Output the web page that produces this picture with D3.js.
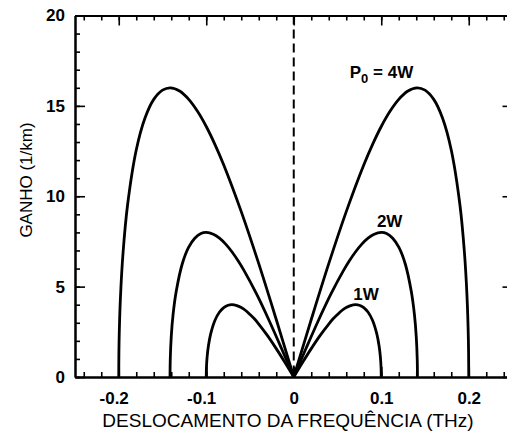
<!DOCTYPE html>
<html>
<head>
<meta charset="utf-8">
<script src="https://cdn.jsdelivr.net/npm/d3@7"></script>
<style>
  body { margin: 0; background: #fff; }
  svg { display: block; }
  .axis path, .axis line { stroke: #000; }
  .axis path { stroke-width: 2; }
  .axis line { stroke-width: 1.6; }
  .tick-label text { font-family: "Liberation Sans", Arial, sans-serif; font-size: 17px; font-weight: bold; fill: #000; }
  .axis-label { font-family: "Liberation Sans", Arial, sans-serif; fill: #000; }
  .curve { fill: none; stroke: #000; stroke-width: 2.8; stroke-linejoin: round; stroke-linecap: butt; }
  .power-label { font-family: "Liberation Sans", Arial, sans-serif; font-size: 17px; font-weight: bold; fill: #000; }
</style>
</head>
<body>
<svg id="chart" width="507" height="433"></svg>
<script>
// gain curves (frequency in THz, gain in 1/km)
const freq4W = [0, 0.02, 0.04, 0.06, 0.08, 0.09, 0.10, 0.11, 0.12, 0.13, 0.141, 0.15, 0.16, 0.17, 0.18, 0.19, 0.195, 0.198, 0.1996, 0.2];
const freq4WLeft = [0, -0.02, -0.04, -0.06, -0.08, -0.09, -0.10, -0.11, -0.12, -0.13, -0.141, -0.15, -0.16, -0.17, -0.18, -0.19, -0.195, -0.198, -0.1996, -0.2];
const gain4W = [0, 3.18, 6.27, 9.15, 11.73, 12.86, 13.86, 14.70, 15.36, 15.81, 16.0, 15.87, 15.36, 14.33, 12.56, 9.49, 6.93, 4.47, 2.02, 0];

const freq2W = [0, 0.0141, 0.0283, 0.0424, 0.0566, 0.0636, 0.0707, 0.0778, 0.0849, 0.0919, 0.1, 0.1061, 0.1131, 0.1202, 0.1273, 0.1343, 0.1379, 0.14, 0.1411, 0.1414];
const freq2WLeft = [0, -0.0141, -0.0283, -0.0424, -0.0566, -0.0636, -0.0707, -0.0778, -0.0849, -0.0919, -0.1, -0.1061, -0.1131, -0.1202, -0.1273, -0.1343, -0.1379, -0.14, -0.1411, -0.1414];
const gain2W = [0, 1.59, 3.14, 4.58, 5.87, 6.43, 6.93, 7.35, 7.68, 7.90, 8.0, 7.94, 7.68, 7.17, 6.28, 4.74, 3.46, 2.23, 1.01, 0];

const freq1W = [0, 0.01, 0.02, 0.03, 0.04, 0.045, 0.05, 0.055, 0.06, 0.065, 0.0707, 0.075, 0.08, 0.085, 0.09, 0.095, 0.0975, 0.099, 0.0998, 0.1];
const freq1WLeft = [0, -0.01, -0.02, -0.03, -0.04, -0.045, -0.05, -0.055, -0.06, -0.065, -0.0707, -0.075, -0.08, -0.085, -0.09, -0.095, -0.0975, -0.099, -0.0998, -0.1];
const gain1W = [0, 0.80, 1.57, 2.29, 2.93, 3.22, 3.46, 3.68, 3.84, 3.95, 4.0, 3.97, 3.84, 3.58, 3.14, 2.37, 1.73, 1.12, 0.50, 0];

const xTicks = [-0.2, -0.1, 0, 0.1, 0.2];
const yTicks = [0, 5, 10, 15, 20];

const series = [
  { freq: freq4W, gain: gain4W },
  { freq: freq4WLeft, gain: gain4W },
  { freq: freq2W, gain: gain2W },
  { freq: freq2WLeft, gain: gain2W },
  { freq: freq1W, gain: gain1W },
  { freq: freq1WLeft, gain: gain1W }
];

// curve labels, placed in data units
const powerLabels = [
  { text: "P", sub: "0", rest: " = 4W", f: 0.064, g: 16.55 },
  { text: "2W", f: 0.095, g: 8.3 },
  { text: "1W", f: 0.068, g: 4.25 }
];

const svg = d3.select("#chart");
const plotLeft = 75, plotRight = 512.5, plotTop = 15.5, plotBottom = 377;

const x = d3.scaleLinear().domain([-0.25, 0.25]).range([plotLeft, plotRight]);
const y = d3.scaleLinear().domain([0, 20]).range([plotBottom, plotTop]);

const xMinor = d3.range(-24, 25, 2).map(v => v / 100);
const yMinor = d3.range(0, 21);

// minor ticks
svg.append("g").attr("class", "axis").attr("transform", `translate(0,${plotBottom})`)
  .call(d3.axisBottom(x).tickValues(xMinor).tickSize(-5).tickSizeOuter(0).tickFormat(""));
svg.append("g").attr("class", "axis").attr("transform", `translate(0,${plotTop})`)
  .call(d3.axisTop(x).tickValues(xMinor).tickSize(-5).tickSizeOuter(0).tickFormat(""));
svg.append("g").attr("class", "axis").attr("transform", `translate(${plotLeft},0)`)
  .call(d3.axisLeft(y).tickValues(yMinor).tickSize(-5).tickSizeOuter(0).tickFormat(""));
svg.append("g").attr("class", "axis").attr("transform", `translate(${plotRight},0)`)
  .call(d3.axisRight(y).tickValues(yMinor).tickSize(-5).tickSizeOuter(0).tickFormat(""));

// major ticks
const xAxis = svg.append("g").attr("class", "axis tick-label").attr("transform", `translate(0,${plotBottom})`)
  .call(d3.axisBottom(x).tickValues(xTicks).tickSize(-10).tickSizeOuter(0).tickPadding(15)
    .tickFormat(d => d === 0 ? "0" : d3.format(".1f")(d).replace("−", "-")));
xAxis.selectAll(".tick text").attr("dx", d => d < 0 ? "-0.3em" : 0);

svg.append("g").attr("class", "axis").attr("transform", `translate(0,${plotTop})`)
  .call(d3.axisTop(x).tickValues(xTicks).tickSize(-10).tickSizeOuter(0).tickFormat(""));

svg.append("g").attr("class", "axis tick-label").attr("transform", `translate(${plotLeft},0)`)
  .call(d3.axisLeft(y).tickValues(yTicks).tickSize(-10).tickSizeOuter(0).tickPadding(10));

svg.append("g").attr("class", "axis").attr("transform", `translate(${plotRight},0)`)
  .call(d3.axisRight(y).tickValues(yTicks).tickSize(-10).tickSizeOuter(0).tickFormat(""));

// zero line
svg.append("line")
  .attr("x1", x(0)).attr("x2", x(0))
  .attr("y1", y(20)).attr("y2", y(0))
  .attr("stroke", "#000").attr("stroke-width", 2)
  .attr("stroke-dasharray", "9,5");

const line = d3.line()
  .x(d => x(d[0]))
  .y(d => y(d[1]))
  .curve(d3.curveCatmullRom.alpha(0.5));

svg.selectAll(".curve")
  .data(series)
  .join("path")
  .attr("class", "curve")
  .attr("d", s => line(s.freq.map((f, i) => [f, s.gain[i]])));

// labels
powerLabels.forEach(l => {
  const t = svg.append("text").attr("class", "power-label")
    .attr("x", x(l.f)).attr("y", y(l.g));
  t.append("tspan").text(l.text);
  if (l.sub) {
    t.append("tspan").attr("dy", 5).attr("font-size", 13).text(l.sub);
    t.append("tspan").attr("dy", -5).text(l.rest);
  }
});

svg.append("text")
  .attr("class", "axis-label")
  .attr("text-anchor", "middle")
  .attr("font-size", 19)
  .attr("x", 288)
  .attr("y", 427)
  .text("DESLOCAMENTO DA FREQUÊNCIA (THz)");

svg.append("text")
  .attr("class", "axis-label")
  .attr("text-anchor", "middle")
  .attr("font-size", 17)
  .attr("transform", "translate(32,180) rotate(-90)")
  .text("GANHO (1/km)");
</script>
</body>
</html>
